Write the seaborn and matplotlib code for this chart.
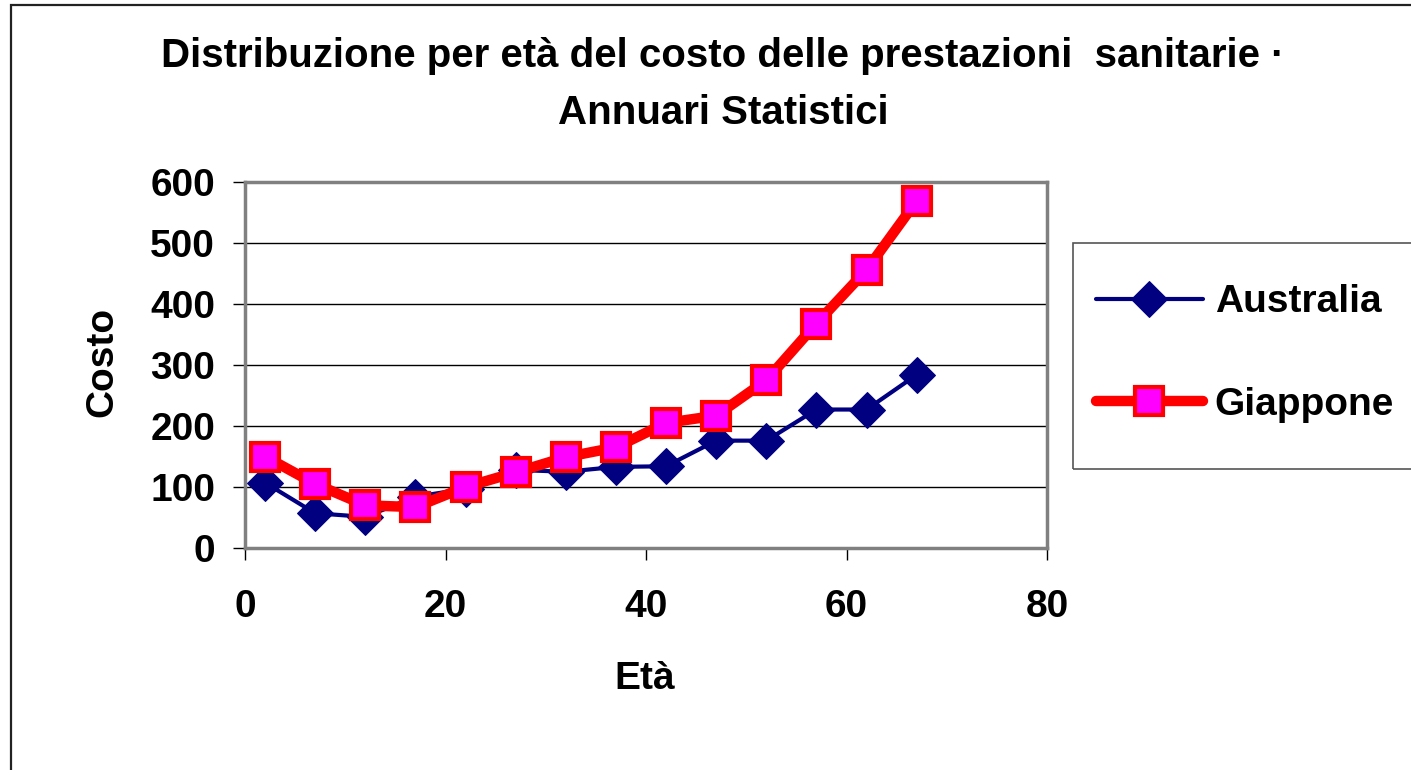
import matplotlib
matplotlib.use("Agg")
import matplotlib.pyplot as plt
from matplotlib.patches import Rectangle
import seaborn as sns
import pandas as pd

# ---- data ----
eta = [2, 7, 12, 17, 22, 27, 32, 37, 42, 47, 52, 57, 62, 67]
australia = [107, 57, 51, 84, 97, 128, 125, 133, 134, 176, 176, 227, 227, 284]
giappone = [150, 105, 70, 67, 100, 124, 149, 165, 205, 217, 275, 368, 456, 569]
series_names = ["Australia", "Giappone"]
x_ticks = [0, 20, 40, 60, 80]
y_ticks = [0, 100, 200, 300, 400, 500, 600]
title = "Distribuzione per età del costo delle prestazioni  sanitarie ·\nAnnuari Statistici"
x_label = "Età"
y_label = "Costo"

df = pd.DataFrame({"eta": eta, "Australia": australia, "Giappone": giappone})

sns.set_style("white")
plt.rcParams["font.family"] = ["Liberation Sans", "DejaVu Sans"]
plt.rcParams["font.weight"] = "bold"
for k in ["text.color", "axes.labelcolor", "xtick.color", "ytick.color",
          "xtick.labelcolor", "ytick.labelcolor"]:
    plt.rcParams[k] = "black"

fig = plt.figure(figsize=(14.11, 7.70), dpi=100)
fig.patch.set_facecolor("white")

# outer chart frame
fig.patches.append(Rectangle((10.5 / 1411, -0.1), 1.2, 1 - 5.5 / 770 + 0.1,
                             transform=fig.transFigure, fill=False,
                             edgecolor="#222222", linewidth=1.6))

ax = fig.add_axes([245 / 1411, 1 - 548 / 770, 802 / 1411, 366 / 770])

sns.lineplot(data=df, x="eta", y="Australia", ax=ax, color="#000080",
             linewidth=3, marker="D", markersize=18, markeredgecolor="#000080",
             markerfacecolor="#000080", label=series_names[0], zorder=3)
sns.lineplot(data=df, x="eta", y="Giappone", ax=ax, color="#FF0000",
             linewidth=7.5, marker="s", markersize=20, markeredgecolor="#FF0000",
             markeredgewidth=3, markerfacecolor="#FF00FF",
             label=series_names[1], zorder=4)

ax.set_xlim(0, 80)
ax.set_ylim(0, 600)
ax.set_xticks(x_ticks)
ax.set_yticks(y_ticks)
ax.tick_params(axis="both", direction="out", length=8.6, width=1,
               color="black", labelcolor="black", labelsize=28)
ax.tick_params(axis="y", pad=13, left=True)
ax.tick_params(axis="x", pad=21, bottom=True)
for lab in ax.get_xticklabels() + ax.get_yticklabels():
    lab.set_fontweight("bold")

ax.yaxis.grid(True, color="black", linewidth=1)
ax.xaxis.grid(False)
ax.set_axisbelow(True)
for sp in ax.spines.values():
    sp.set_visible(True)
    sp.set_color("#808080")
    sp.set_linewidth(2.5)

ax.set_xlabel(x_label, fontsize=28, fontweight="bold", color="black")
ax.set_ylabel(y_label, fontsize=28, fontweight="bold", color="black")
ax.xaxis.label.set_va("center")
ax.yaxis.label.set_va("center")
ax.xaxis.set_label_coords((645 - 245) / 802, (548 - 679) / 366)
ax.yaxis.set_label_coords((102 - 245) / 802, (548 - 362) / 366)

fig.text(723 / 1411, 1 - 84.5 / 770, title, ha="center", va="center",
         fontsize=29, fontweight="bold", linespacing=1.65, color="black")

# legend box
fig.patches.append(Rectangle((1072.5 / 1411, 1 - 469 / 770), 0.3, 226 / 770,
                             transform=fig.transFigure, fill=False,
                             edgecolor="#555555", linewidth=1.2))
leg = ax.legend(loc="center left", bbox_to_anchor=(1096 / 1411, 1 - 353.5 / 770),
                bbox_transform=fig.transFigure, frameon=False,
                handlelength=2.75, handletextpad=0.3, labelspacing=1.7,
                borderpad=0, borderaxespad=0, prop={"weight": "bold", "size": 28})
for t in leg.get_texts():
    t.set_color("black")

fig.savefig("out.png", dpi=100, facecolor="white")
